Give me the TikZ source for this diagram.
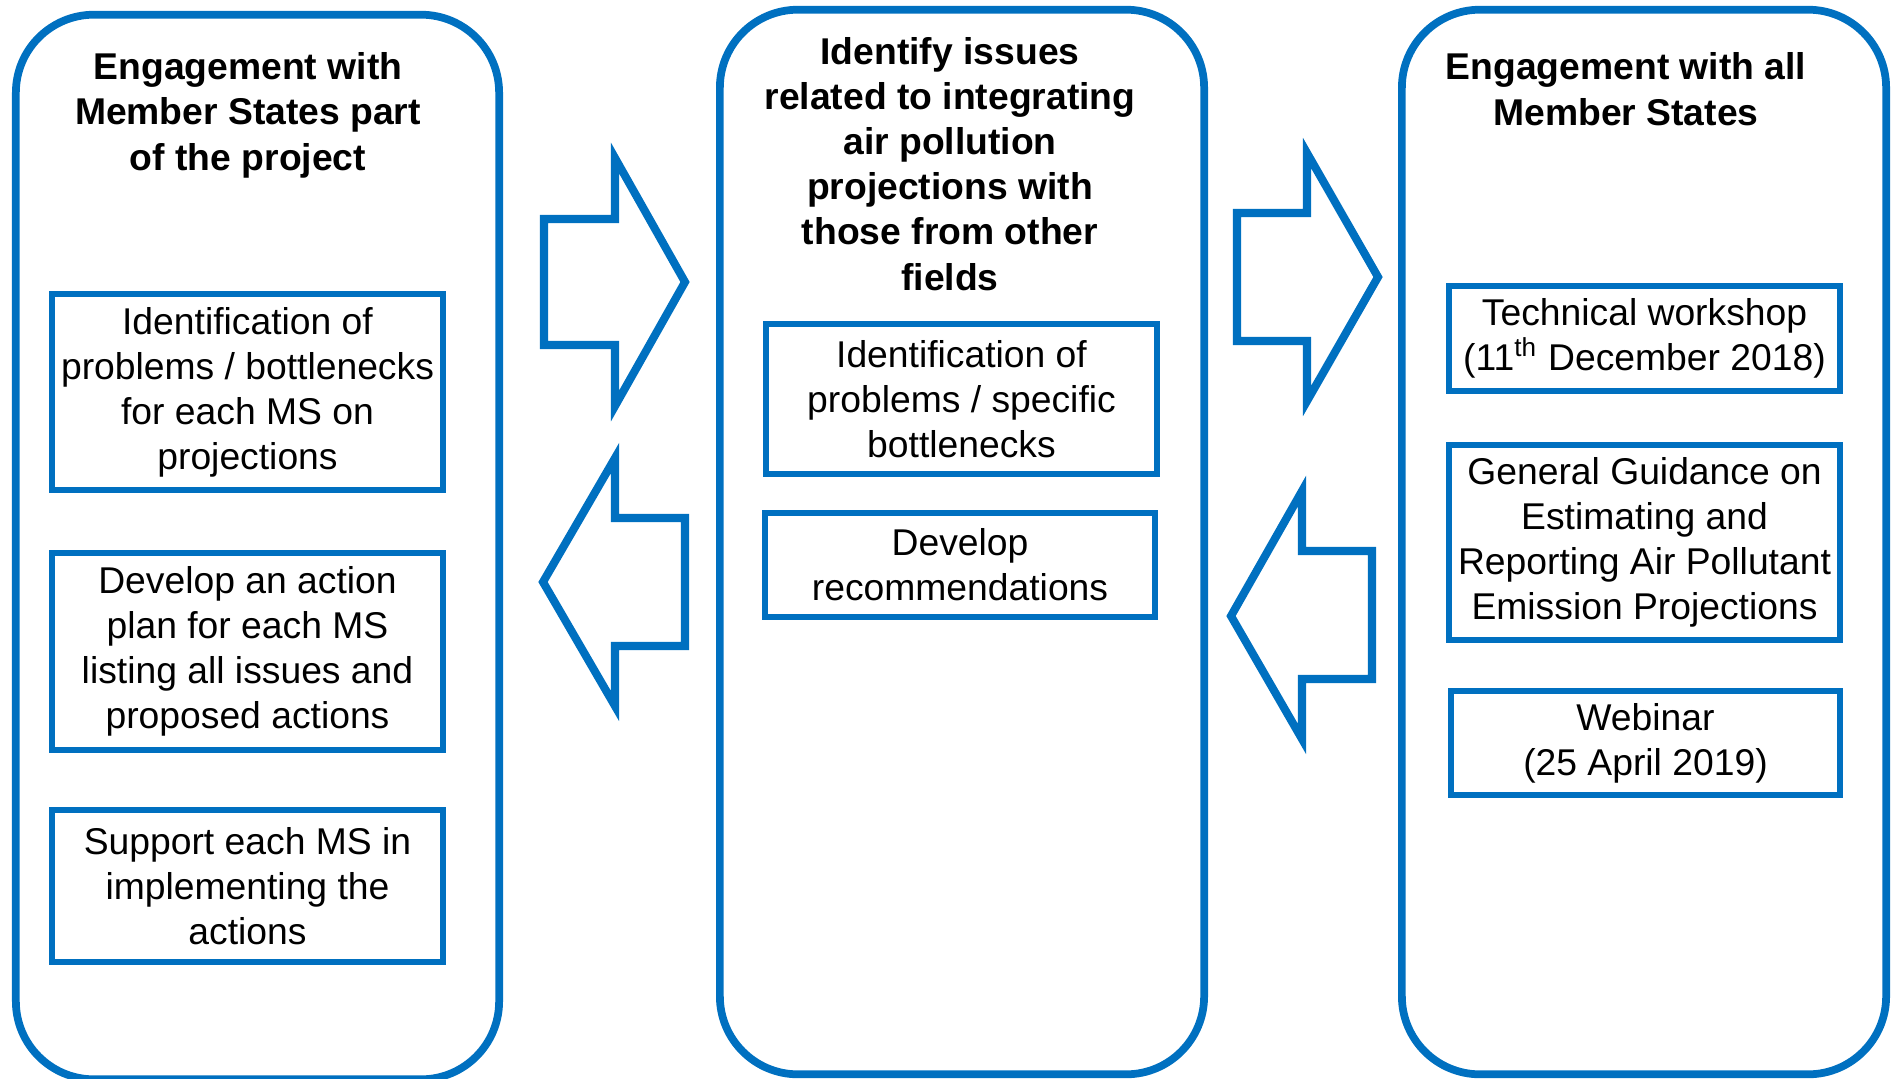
\documentclass[tikz,border=0pt]{standalone}
\usepackage{fontspec}
\setmainfont{Liberation Sans}
\definecolor{ecblue}{HTML}{0070C0}
\begin{document}
\begin{tikzpicture}[x=0.01cm, y=-0.01cm,
  panel/.style={draw=ecblue, line width=2.2pt, rounded corners=0.78cm, inner sep=0pt},
  task/.style={draw=ecblue, line width=1.6pt, align=center, inner sep=0pt, font=\fontsize{10.6}{12.8}\selectfont},
  heading/.style={align=center, inner sep=0pt, font=\bfseries\fontsize{10.6}{12.8}\selectfont},
  blockarrow/.style={draw=ecblue, line width=2.3pt, line join=miter}]
  \useasboundingbox (0,0) rectangle (1894,1078);
  % three columns, titles sit on the baseline of their last line
  \node[panel, minimum width=4.83cm, minimum height=10.64cm] (msproj) at (257.5,547) {};
  \node[panel, minimum width=4.84cm, minimum height=10.64cm] (issues) at (962,542) {};
  \node[panel, minimum width=4.84cm, minimum height=10.64cm] (allms) at (1644,542) {};
  \node[heading, anchor=base] (msprojt) at (248,170) {Engagement with\\ Member States part\\ of the project};
  \node[heading, anchor=base] (issuest) at (950,290) {Identify issues\\ related to integrating\\ air pollution\\ projections with\\ those from other\\ fields};
  \node[heading, anchor=base] (allmst) at (1626,125) {Engagement with all\\ Member States};
  % left column boxes
  \node[task, minimum width=3.91cm, minimum height=1.96cm] (ident) at (247.5,392) {Identification of\\ problems / bottlenecks\\ for each MS on\\ projections};
  \node[task, minimum width=3.91cm, minimum height=1.97cm] (plan) at (247.5,651.5) {Develop an action\\ plan for each MS\\ listing all issues and\\ proposed actions};
  \node[task, minimum width=3.91cm, minimum height=1.52cm] (support) at (247.5,886) {Support each MS in\\ implementing the\\ actions};
  % middle column boxes
  \node[task, minimum width=3.91cm, minimum height=1.50cm] (specific) at (961.5,399) {Identification of\\ problems / specific\\ bottlenecks};
  \node[task, minimum width=3.90cm, minimum height=1.04cm] (recomm) at (960,565) {Develop\\ recommendations};
  % right column boxes
  \node[task, minimum width=3.91cm, minimum height=1.05cm] (workshop) at (1644.5,338.5) {Technical workshop\\ (11\smash{\textsuperscript{th}} December 2018)};
  \node[task, minimum width=3.91cm, minimum height=1.95cm] (guidance) at (1644.5,542.5) {General Guidance on\\ Estimating and\\ Reporting Air Pollutant\\ Emission Projections};
  \node[task, minimum width=3.89cm, minimum height=1.04cm] (webinar) at (1645.5,743) {Webinar\\ (25 April 2019)};
  % block arrows between the columns
  \draw[blockarrow] (544,219) -- (615,219) -- (615,158) -- (685,282) -- (615,406) -- (615,345) -- (544,345) -- cycle;
  \draw[blockarrow] (685,518) -- (615,518) -- (615,458) -- (543,582) -- (615,706) -- (615,646) -- (685,646) -- cycle;
  \draw[blockarrow] (1237,213) -- (1307,213) -- (1307,153) -- (1378,277) -- (1307,401) -- (1307,341) -- (1237,341) -- cycle;
  \draw[blockarrow] (1372,551) -- (1302,551) -- (1302,491) -- (1231,616) -- (1302,739) -- (1302,679) -- (1372,679) -- cycle;
\end{tikzpicture}
\end{document}
